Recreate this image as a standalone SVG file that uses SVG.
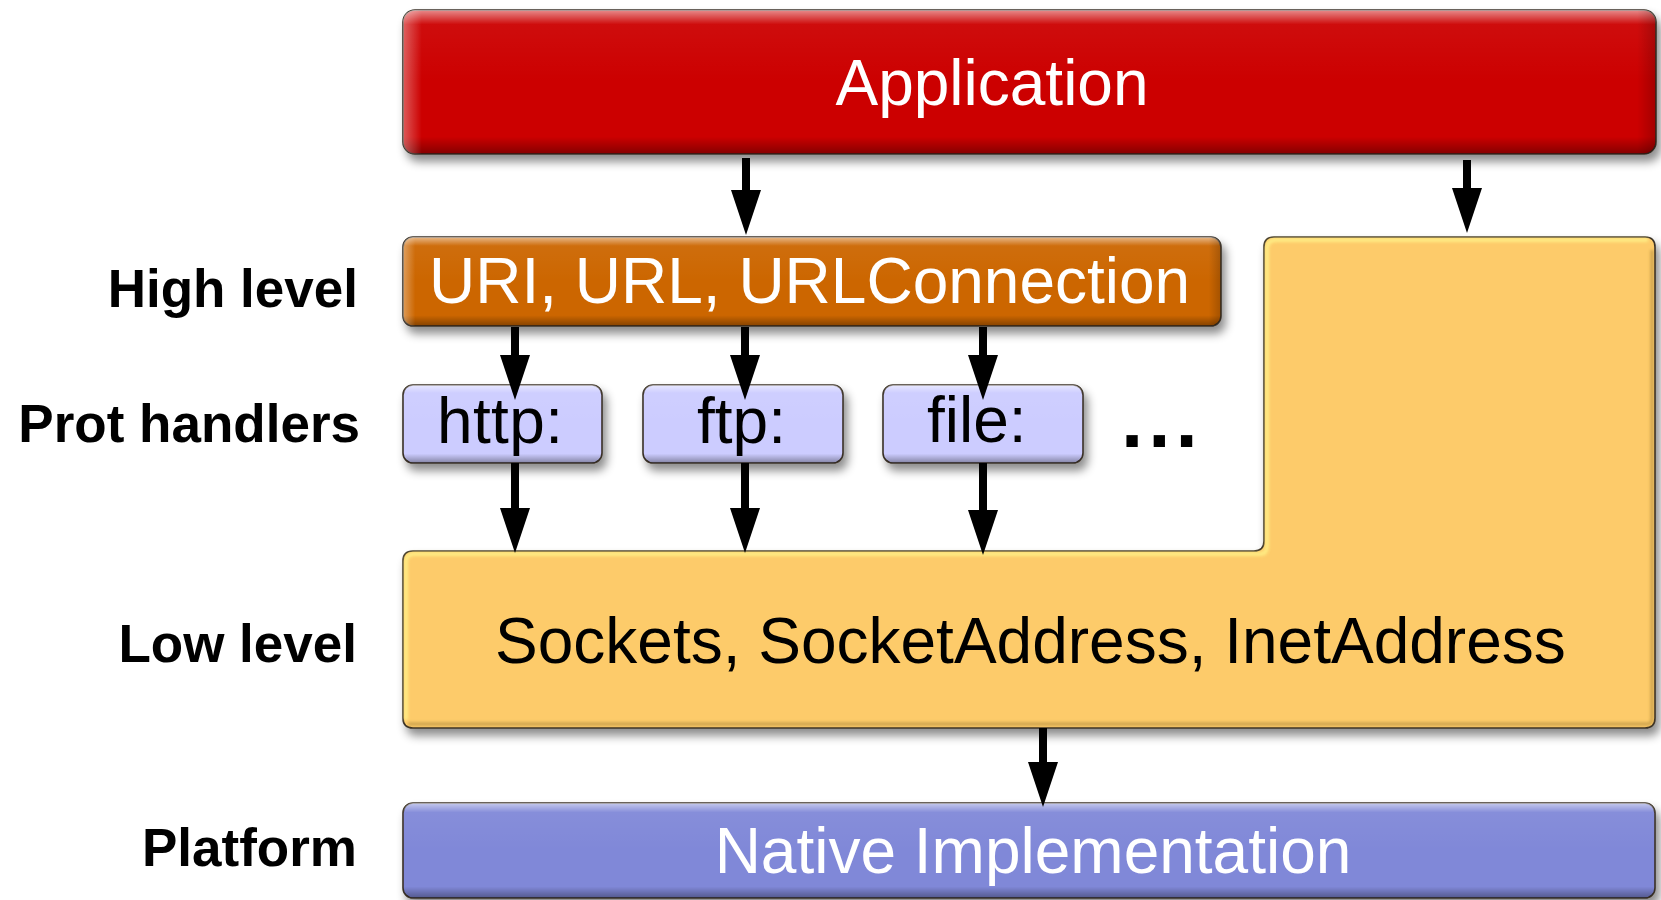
<svg xmlns="http://www.w3.org/2000/svg" width="1661" height="900" viewBox="0 0 1661 900">
<style>
.lbl{font-family:"Liberation Sans",Arial,sans-serif;font-weight:bold;font-size:53px;fill:#000;text-anchor:end}
.big{font-family:"Liberation Sans",Arial,sans-serif;font-size:64px}
.w{fill:#fff}
.k{fill:#000}
.dots{font-weight:bold;font-size:80px;letter-spacing:5px}
.box{stroke:#3a3026;stroke-width:1.6}
.bev{fill:url(#bevel);stroke:none}
.side{fill:url(#side);stroke:none}
.arrow{stroke:#000;stroke-width:8;fill:none;marker-end:url(#ah)}
</style>
<defs>
<filter id="sh" x="-5%" y="-20%" width="115%" height="150%">
<feDropShadow dx="4" dy="7" stdDeviation="5" flood-color="#000" flood-opacity="0.45"/>
</filter>
<filter id="blur" x="-5%" y="-5%" width="110%" height="110%">
<feGaussianBlur stdDeviation="1.5"/>
</filter>
<linearGradient id="bevel" x1="0" y1="0" x2="0" y2="1">
<stop offset="0" stop-color="#fff" stop-opacity="0.55"/>
<stop offset="0.1" stop-color="#fff" stop-opacity="0.05"/>
<stop offset="0.5" stop-color="#fff" stop-opacity="0"/>
<stop offset="0.88" stop-color="#000" stop-opacity="0"/>
<stop offset="1" stop-color="#000" stop-opacity="0.35"/>
</linearGradient>
<linearGradient id="side" x1="0" y1="0" x2="1" y2="0">
<stop offset="0" stop-color="#fff" stop-opacity="0.35"/>
<stop offset="0.015" stop-color="#fff" stop-opacity="0"/>
<stop offset="0.985" stop-color="#000" stop-opacity="0"/>
<stop offset="1" stop-color="#000" stop-opacity="0.2"/>
</linearGradient>
<marker id="ah" markerUnits="userSpaceOnUse" markerWidth="46" markerHeight="32" viewBox="0 0 46 32" refX="0" refY="16" orient="auto">
<path d="M0,1 L45,16 L0,31 Z" fill="#000"/>
</marker>
</defs>
<rect width="1661" height="900" fill="#fff"/>

<g id="labels">
<text class="lbl" x="358" y="307">High level</text>
<text class="lbl" x="360" y="442">Prot handlers</text>
<text class="lbl" x="357" y="662">Low level</text>
<text class="lbl" x="357" y="866">Platform</text>
</g>

<g id="application">
<rect class="box" x="403" y="10" width="1253" height="144" rx="12" fill="#CC0000" filter="url(#sh)"/>
<rect class="bev" x="403" y="10" width="1253" height="144" rx="12"/>
<rect class="side" x="403" y="10" width="1253" height="144" rx="12"/>
<text class="big w" x="992" y="105" text-anchor="middle" font-size="63">Application</text>
</g>

<g id="high-level">
<rect class="box" x="403" y="237" width="818" height="89" rx="10" fill="#CC6600" filter="url(#sh)"/>
<rect class="bev" x="403" y="237" width="818" height="89" rx="10"/>
<rect class="side" x="403" y="237" width="818" height="89" rx="10"/>
<text class="big w" x="429" y="303">URI, URL, URLConnection</text>
</g>

<g id="http">
<rect class="box" x="403" y="385" width="199" height="78" rx="10" fill="#CCCCFF" filter="url(#sh)"/>
<rect class="bev" x="403" y="385" width="199" height="78" rx="10"/>
<text class="big k" x="437" y="443" font-size="60" textLength="126" lengthAdjust="spacing">http:</text>
</g>
<g id="ftp">
<rect class="box" x="643" y="385" width="200" height="78" rx="10" fill="#CCCCFF" filter="url(#sh)"/>
<rect class="bev" x="643" y="385" width="200" height="78" rx="10"/>
<text class="big k" x="697" y="443" font-size="60">ftp:</text>
</g>
<g id="file">
<rect class="box" x="883" y="385" width="200" height="78" rx="10" fill="#CCCCFF" filter="url(#sh)"/>
<rect class="bev" x="883" y="385" width="200" height="78" rx="10"/>
<text class="big k" x="927" y="442" font-size="60">file:</text>
</g>
<g id="more">
<text class="big k dots" x="1121" y="447">...</text>
</g>

<g id="low-level">
<path class="box" d="M413,551 H1254 Q1264,551 1264,541 V247 Q1264,237 1274,237 H1645 Q1655,237 1655,247 V718 Q1655,728 1645,728 H413 Q403,728 403,718 V561 Q403,551 413,551 Z" fill="#FDCB6A" filter="url(#sh)"/>
<path d="M406,720 V562 Q406,554 414,554 H1260 Q1267,554 1267,546 V249 Q1267,240 1276,240 H1648" fill="none" stroke="#FFF48A" stroke-width="4" opacity="0.8" filter="url(#blur)"/>
<path d="M408,724 H1648 Q1652,724 1652,718 V250" fill="none" stroke="#8a6a20" stroke-width="3" opacity="0.45" filter="url(#blur)"/>
<text class="big k" x="495" y="663">Sockets, SocketAddress, InetAddress</text>
</g>

<g id="platform">
<rect class="box" x="403" y="803" width="1252" height="95" rx="10" fill="#8088D8" filter="url(#sh)"/>
<rect class="bev" x="403" y="803" width="1252" height="95" rx="10"/>
<text class="big w" x="1033" y="873" text-anchor="middle">Native Implementation</text>
</g>

<g id="connectors">
<line class="arrow" x1="746" y1="158" x2="746" y2="190"/>
<line class="arrow" x1="1467" y1="160" x2="1467" y2="188"/>
<line class="arrow" x1="515" y1="327" x2="515" y2="355"/>
<line class="arrow" x1="745" y1="327" x2="745" y2="355"/>
<line class="arrow" x1="983" y1="327" x2="983" y2="355"/>
<line class="arrow" x1="515" y1="463" x2="515" y2="508"/>
<line class="arrow" x1="745" y1="463" x2="745" y2="508"/>
<line class="arrow" x1="983" y1="463" x2="983" y2="510"/>
<line class="arrow" x1="1043" y1="728" x2="1043" y2="762"/>
</g>
</svg>
